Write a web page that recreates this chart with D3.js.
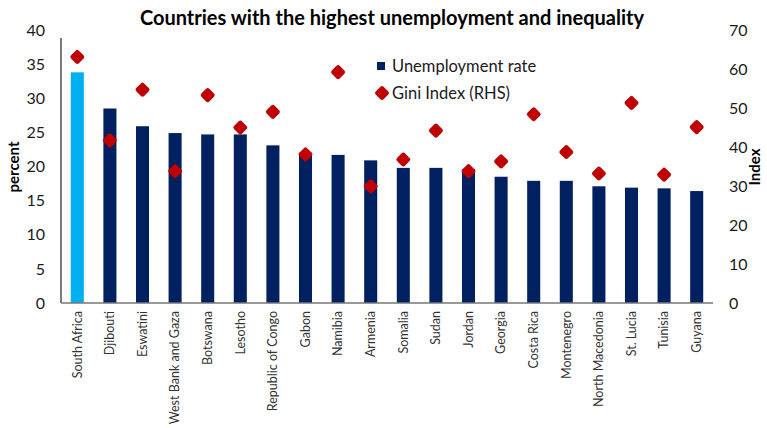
<!DOCTYPE html>
<html>
<head>
<meta charset="utf-8">
<script src="https://cdn.jsdelivr.net/npm/d3@7"></script>
<style>
  body { margin: 0; background: #fff; }
  svg { display: block; font-family: Lato, "Open Sans", sans-serif; }
</style>
</head>
<body>
<svg id="chart" width="767" height="428"></svg>
<script>
// Countries, unemployment rate (percent, left axis) and Gini index (right axis)
const countries = ["South Africa", "Djibouti", "Eswatini", "West Bank and Gaza", "Botswana",
  "Lesotho", "Republic of Congo", "Gabon", "Namibia", "Armenia", "Somalia", "Sudan",
  "Jordan", "Georgia", "Costa Rica", "Montenegro", "North Macedonia", "St. Lucia",
  "Tunisia", "Guyana"];
const unemployment = [33.8, 28.5, 25.9, 24.9, 24.7, 24.7, 23.1, 22.0, 21.7, 20.9,
  19.8, 19.8, 19.6, 18.5, 17.9, 17.9, 17.1, 16.9, 16.8, 16.4];
const gini = [63.1, 41.7, 54.7, 33.8, 53.3, 45.0, 49.0, 38.1, 59.2, 29.9,
  36.8, 44.2, 33.8, 36.3, 48.4, 38.7, 33.2, 51.3, 32.9, 45.1];
const leftTicks = [0, 5, 10, 15, 20, 25, 30, 35, 40];
const rightTicks = [0, 10, 20, 30, 40, 50, 60, 70];

const svg = d3.select("#chart");
const m = { left: 61, right: 713, top: 30, bottom: 303 };

const x = d3.scaleBand().domain(countries).range([m.left, m.right]).paddingInner(0.6).paddingOuter(0.3);
const yL = d3.scaleLinear().domain([0, 40]).range([m.bottom, m.top]);
const yR = d3.scaleLinear().domain([0, 70]).range([m.bottom, m.top]);

const navy = "#002060", sky = "#00B0F0", red = "#C00000", ink = "#1a1a1a";

// Title
svg.append("text").attr("x", 392).attr("y", 25).attr("text-anchor", "middle")
  .attr("font-weight", "bold").attr("font-size", 20).attr("fill", "#000")
  .text("Countries with the highest unemployment and inequality");

// Bars
svg.append("g").selectAll("rect").data(countries).join("rect")
  .attr("x", d => x(d))
  .attr("width", x.bandwidth())
  .attr("y", (d, i) => yL(unemployment[i]))
  .attr("height", (d, i) => yL(0) - yL(unemployment[i]))
  .attr("fill", (d, i) => i === 0 ? sky : navy);

// Left axis (ticks and labels only; the axis line is drawn separately)
const gL = svg.append("g").attr("transform", `translate(${m.left},0)`)
  .call(d3.axisLeft(yL).tickValues(leftTicks).tickSize(0).tickPadding(16));
gL.select(".domain").remove();
gL.selectAll("text").attr("font-size", 16).attr("fill", ink).attr("font-family", "Lato, sans-serif");
svg.append("line").attr("x1", m.left).attr("x2", m.left)
  .attr("y1", 38).attr("y2", yL(0)).attr("stroke", "#333").attr("stroke-width", 1.3);

// Right axis
const gR = svg.append("g").attr("transform", `translate(${m.right},0)`)
  .call(d3.axisRight(yR).tickValues(rightTicks).tickSize(0).tickPadding(16));
gR.select(".domain").remove();
gR.selectAll("text").attr("font-size", 16).attr("fill", ink).attr("font-family", "Lato, sans-serif");

// Baseline
svg.append("line").attr("x1", m.left).attr("x2", m.right)
  .attr("y1", yL(0)).attr("y2", yL(0)).attr("stroke", "#777").attr("stroke-width", 1.3);

// Category labels
const gX = svg.append("g").attr("transform", `translate(0,${m.bottom})`)
  .call(d3.axisBottom(x).tickSize(0).tickPadding(0));
gX.select(".domain").remove();
gX.selectAll("text")
  .attr("font-size", 12.5).attr("fill", "#333").attr("font-family", "Lato, sans-serif")
  .attr("text-anchor", "end").attr("dy", "0.35em")
  .attr("transform", "translate(0,8) rotate(-90)")
  .attr("x", 0).attr("y", 0);

// Gini markers: blunt diamonds
const diamond = d3.symbol().type(d3.symbolSquare).size(44);
svg.append("g").selectAll("path").data(countries).join("path")
  .attr("d", diamond)
  .attr("transform", (d, i) => `translate(${x(d) + x.bandwidth() / 2},${yR(gini[i])}) rotate(45)`)
  .attr("fill", red).attr("stroke", red).attr("stroke-width", 4.5).attr("stroke-linejoin", "round");

// Axis titles
svg.append("text").attr("transform", `translate(19,167) rotate(-90)`)
  .attr("text-anchor", "middle").attr("font-weight", "bold").attr("font-size", 15).attr("fill", "#000")
  .text("percent");
svg.append("text").attr("transform", `translate(760,167) rotate(-90)`)
  .attr("text-anchor", "middle").attr("font-weight", "bold").attr("font-size", 15).attr("fill", "#000")
  .text("Index");

// Legend
const lg = svg.append("g");
lg.append("rect").attr("x", 377).attr("y", 62).attr("width", 8).attr("height", 8).attr("fill", navy);
lg.append("text").attr("x", 392).attr("y", 66).attr("dy", "0.35em").attr("font-size", 16.5).attr("fill", ink)
  .text("Unemployment rate");
lg.append("path").attr("d", diamond)
  .attr("transform", "translate(382,93) rotate(45)")
  .attr("fill", red).attr("stroke", red).attr("stroke-width", 4.5).attr("stroke-linejoin", "round");
lg.append("text").attr("x", 392).attr("y", 93).attr("dy", "0.35em").attr("font-size", 16.5).attr("fill", ink)
  .text("Gini Index (RHS)");
</script>
</body>
</html>
